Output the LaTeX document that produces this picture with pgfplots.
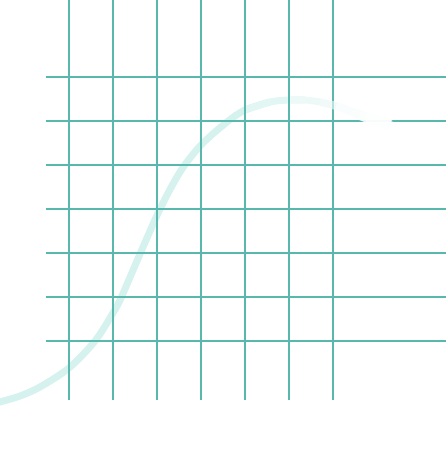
\documentclass[border=0pt]{standalone}
\usepackage{pgfplots}
\pgfplotsset{compat=1.18}
\definecolor{gridteal}{RGB}{88,184,172}
\definecolor{curveteal}{RGB}{214,242,238}

\begin{document}
\begin{tikzpicture}
\begin{axis}[
  scale only axis,
  width=446bp, height=454bp,
  xmin=0, xmax=446, ymin=0, ymax=454,
  y dir=reverse,
  hide axis,
  clip=true,
  unbounded coords=jump,
]
% curve (under the grid)
\addplot[curveteal, line width=7bp, smooth] coordinates {
  (-10,405) (0,402) (20,396) (40,387) (69,368) (95,341) (113,313)
  (121,298) (140,254) (160,209) (180,172) (201,145) (227,122) (245,110)
  (270,102)
};
\addplot[curveteal!70!white, line width=7bp, smooth] coordinates {
  (245,110) (270,102) (289,100) (305,100)
};
\addplot[curveteal!45!white, line width=7bp, smooth] coordinates {
  (289,100) (305,100) (320,102) (336,106)
};

% vertical grid lines
\addplot[gridteal, line width=1.3bp] coordinates {
  (69,0) (69,400) (nan,nan)
  (113,0) (113,400) (nan,nan)
  (157,0) (157,400) (nan,nan)
  (201,0) (201,400) (nan,nan)
  (245,0) (245,400) (nan,nan)
  (289,0) (289,400) (nan,nan)
  (333,0) (333,400)
};
% horizontal grid lines
\addplot[gridteal, line width=1.3bp] coordinates {
  (46,77) (446,77) (nan,nan)
  (46,121) (446,121) (nan,nan)
  (46,165) (446,165) (nan,nan)
  (46,209) (446,209) (nan,nan)
  (46,253) (446,253) (nan,nan)
  (46,297) (446,297) (nan,nan)
  (46,341) (446,341)
};

% faded end of the curve (over the grid)
\addplot[curveteal!25!white, opacity=0.6, line width=8bp, smooth] coordinates {
  (320,102) (336,106) (350,111) (360,115)
};
\addplot[curveteal!10!white, opacity=0.9, line width=10bp, smooth] coordinates {
  (355,113) (368,118) (378,121) (390,125)
};
\addplot[white, opacity=0.6, line width=14bp, line cap=round] coordinates {
  (372,119) (386,124)
};
\end{axis}
\pgfresetboundingbox
\path[use as bounding box] (current axis.south west) rectangle (current axis.north east);
\end{tikzpicture}
\end{document}
